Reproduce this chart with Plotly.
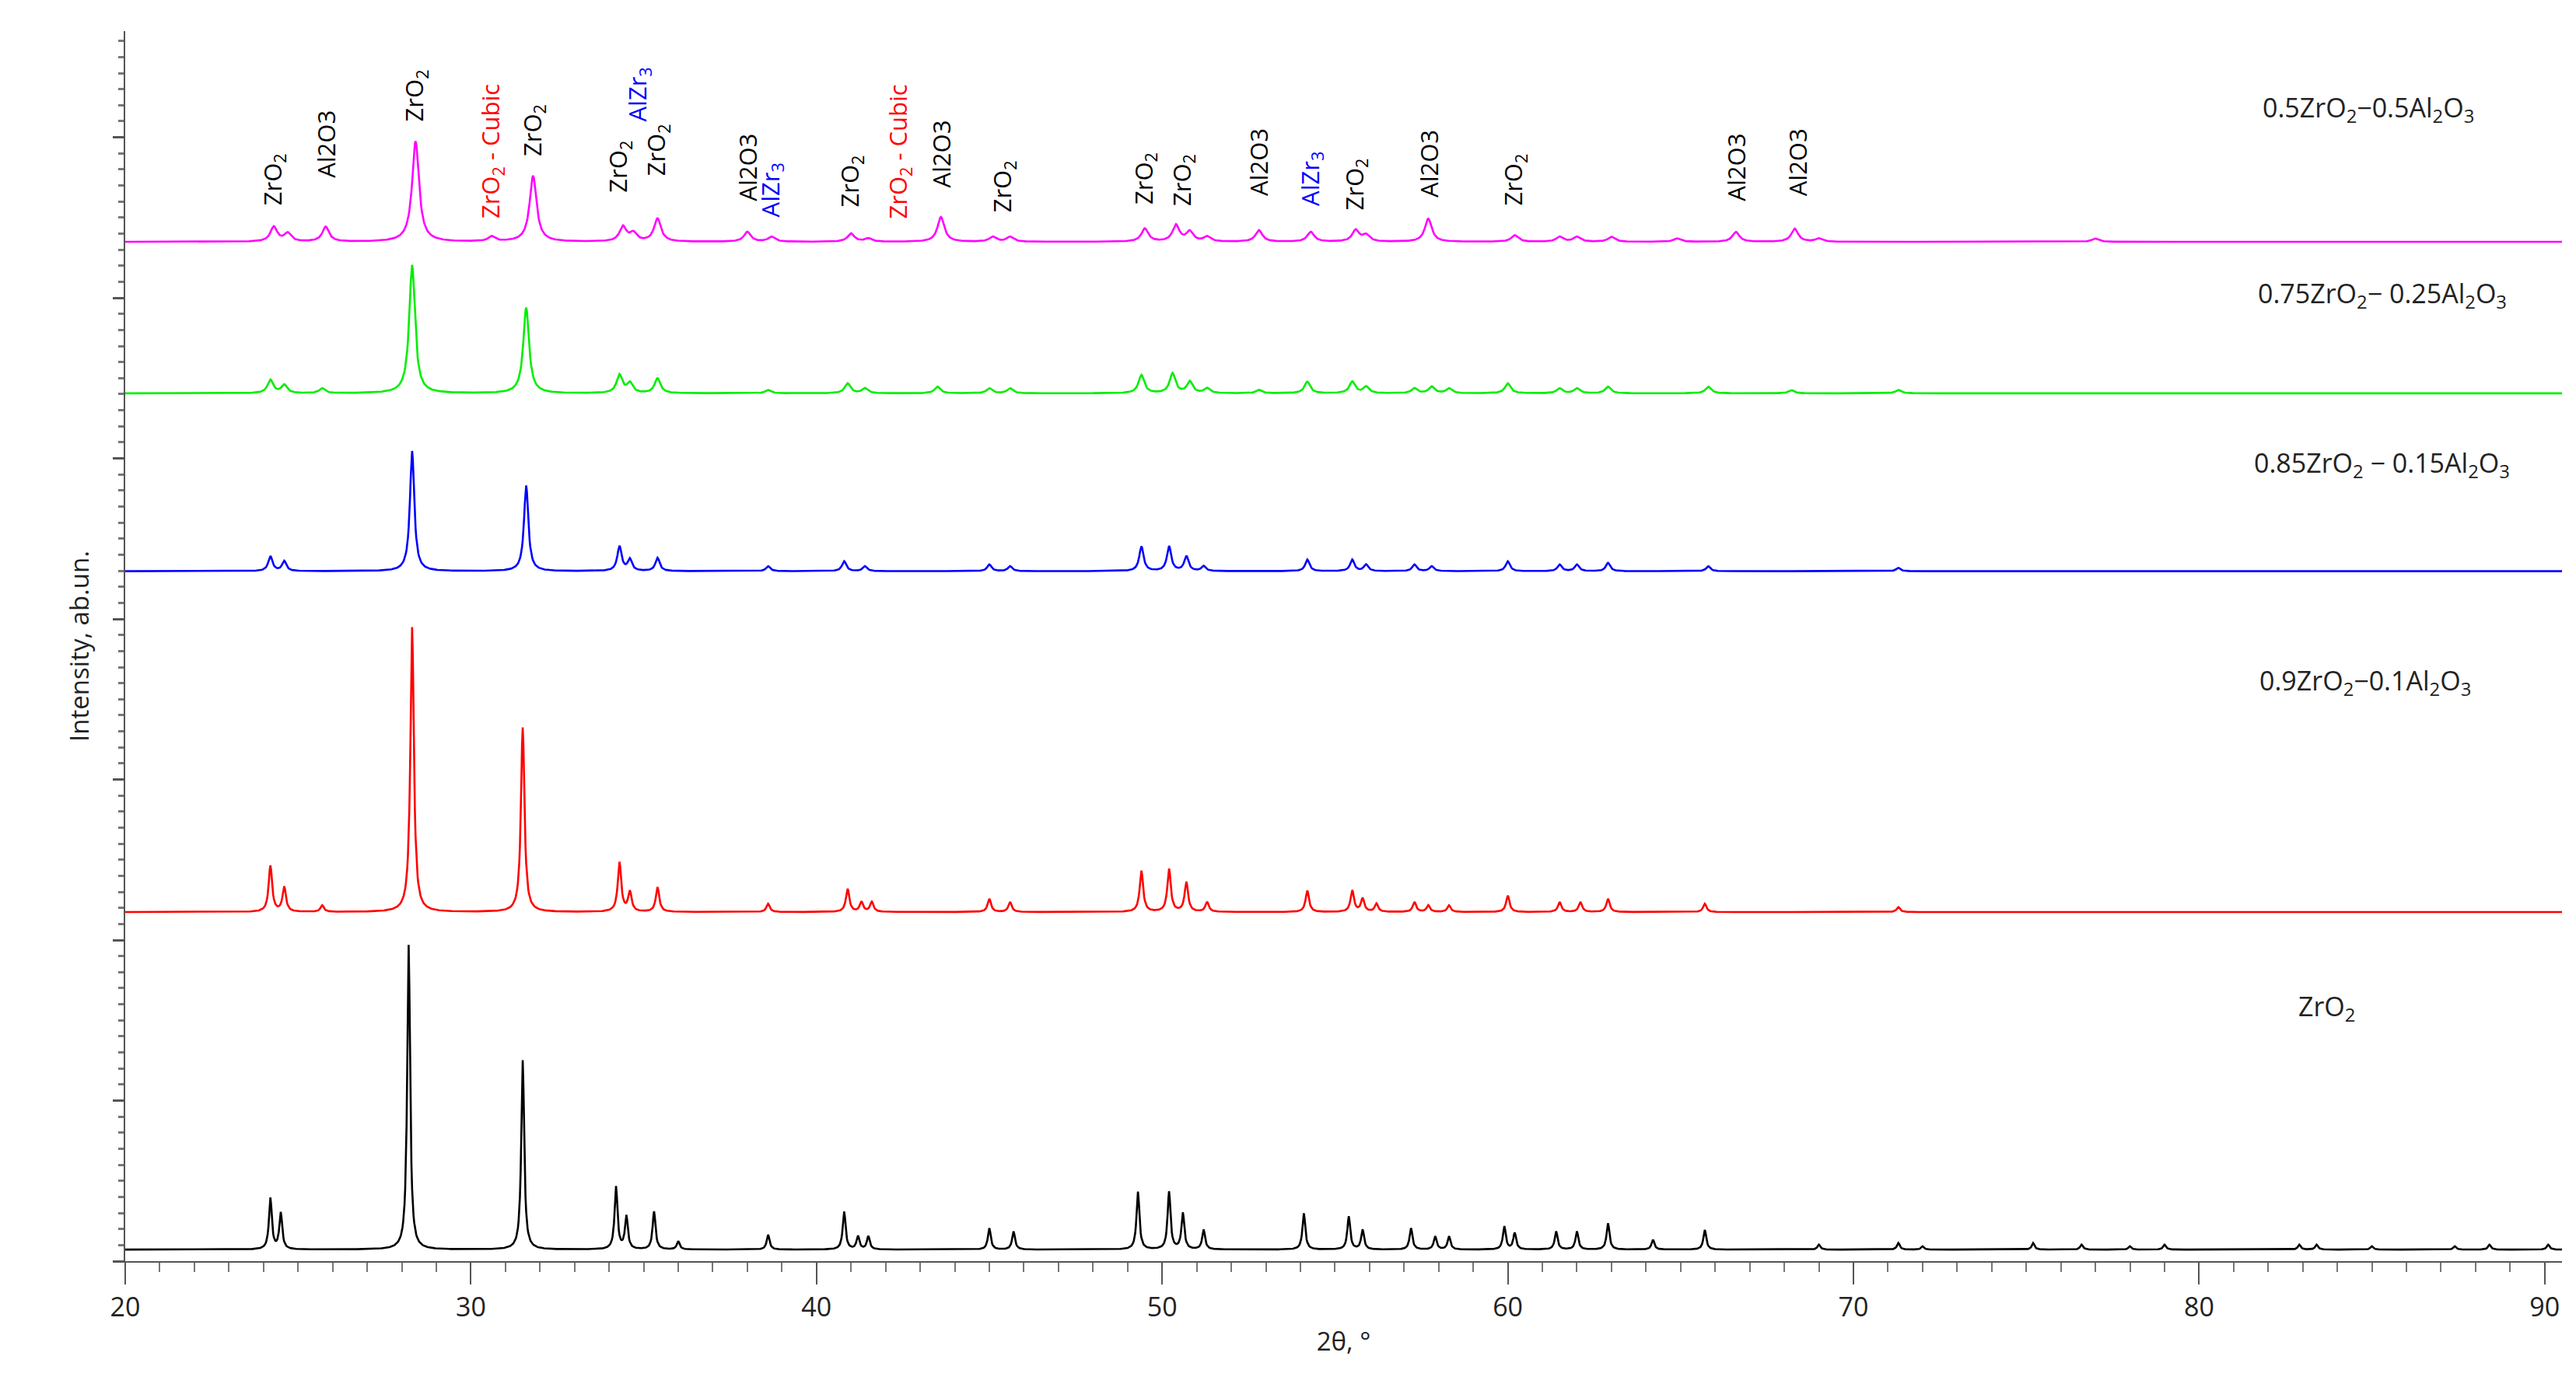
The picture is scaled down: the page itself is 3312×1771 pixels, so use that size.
import numpy as np
import plotly.graph_objects as go

# Peak lists (2theta, height above baseline)
zro2_pos = [24.2,24.5,28.2,31.5,34.2,34.5,35.3,36.0,38.6,40.8,41.2,41.5,45.0,45.7,49.3,50.2,50.6,51.2,54.1,55.4,55.8,57.2,57.9,58.3,59.9,60.2,61.4,62.0,62.9,64.2,65.7,69.0,71.3,72.0,75.2,76.6,78.0,79.0,82.9,83.4,85.0,87.4,88.4,90.1]
zro2_h   = [31,22,185,115,38,20,23,5,9,23,8,8,13,11,35,35,22,12,22,20,12,13,8,8,14,10,11,11,16,6,12,3,4,2,4,3,2,3,3,3,2,2,3,3]
r90_pos = [24.2,24.6,25.7,28.3,31.5,34.3,34.6,35.4,38.6,40.9,41.3,41.6,45.0,45.6,49.4,50.2,50.7,51.3,54.2,55.5,55.8,56.2,57.3,57.7,58.3,60.0,61.5,62.1,62.9,65.7,71.3]
r90_h   = [28,15,4,173,112,30,12,15,5,14,6,6,8,6,25,26,18,6,13,13,8,5,6,4,4,10,6,6,8,5,3]
r85_pos = [24.2,24.6,28.3,31.6,34.3,34.6,35.4,38.6,40.8,41.4,45.0,45.6,49.4,50.2,50.7,51.2,54.2,55.5,55.9,57.3,57.8,60.0,61.5,62.0,62.9,65.8,71.3]
r85_h   = [9,6,73,52,15,7,8,3,6,3,4,3,15,15,9,3,7,7,4,4,3,6,4,4,5,3,2]
r75_pos = [24.2,24.6,25.7,28.3,31.6,34.3,34.6,35.4,38.6,40.9,41.4,43.5,45.0,45.6,49.4,50.3,50.8,51.3,52.8,54.2,55.5,55.9,57.3,57.8,58.3,60.0,61.5,62.0,62.9,65.8,68.2,71.3]
r75_h   = [8,5,3,78,52,11,6,9,2,6,3,4,3,3,11,12,7,3,2,7,7,4,3,4,3,6,3,3,4,4,2,2]
r50_pos = [24.3,24.7,25.8,28.4,30.6,31.8,34.4,34.7,35.4,38.0,38.7,41.0,41.5,43.6,45.1,45.6,49.5,50.4,50.8,51.3,52.8,54.3,55.6,55.9,57.7,60.2,61.5,62.0,63.0,64.9,66.6,68.3,69.0,77.0]
r50_h   = [9,5,9,61,3,40,9,5,14,6,3,5,2,15,3,3,8,10,6,3,7,6,7,4,14,4,3,3,3,2,6,8,2,2]

names = ["ZrO<sub>2</sub>", "0.9ZrO<sub>2</sub>−0.1Al<sub>2</sub>O<sub>3</sub>",
         "0.85ZrO<sub>2</sub> − 0.15Al<sub>2</sub>O<sub>3</sub>",
         "0.75ZrO<sub>2</sub>− 0.25Al<sub>2</sub>O<sub>3</sub>",
         "0.5ZrO<sub>2</sub>−0.5Al<sub>2</sub>O<sub>3</sub>"]
colors = ["#000000", "#ff0000", "#0000ff", "#00ee00", "#ff00ff"]
baselines = [7, 212, 419, 527, 619]
widths = [0.1, 0.12, 0.15, 0.2, 0.24]
label_x = [83.7, 84.8, 85.3, 85.3, 84.9]
label_y = [154, 352, 484, 587, 700]

peak_labels = [(24.3,640,"ZrO<sub>2</sub>","black"),(25.8,657,"Al2O3","black"),(28.4,691,"ZrO<sub>2</sub>","black"),
 (30.6,632,"ZrO<sub>2</sub> - Cubic","red"),(31.8,670,"ZrO<sub>2</sub>","black"),(34.3,648,"ZrO<sub>2</sub>","black"),
 (34.85,691,"AlZr<sub>3</sub>","blue"),(35.4,658,"ZrO<sub>2</sub>","black"),(38.0,643,"Al2O3","black"),
 (38.7,633,"AlZr<sub>3</sub>","blue"),(41.0,639,"ZrO<sub>2</sub>","black"),(42.4,632,"ZrO<sub>2</sub> - Cubic","red"),
 (43.6,651,"Al2O3","black"),(45.4,636,"ZrO<sub>2</sub>","black"),(49.5,641,"ZrO<sub>2</sub>","black"),
 (50.6,640,"ZrO<sub>2</sub>","black"),(52.8,646,"Al2O3","black"),(54.3,640,"AlZr<sub>3</sub>","blue"),
 (55.6,637,"ZrO<sub>2</sub>","black"),(57.7,645,"Al2O3","black"),(60.2,640,"ZrO<sub>2</sub>","black"),
 (66.6,643,"Al2O3","black"),(68.4,646,"Al2O3","black")]

x = np.arange(20.0, 90.55, 0.02)
series = [(zro2_pos, zro2_h), (r90_pos, r90_h), (r85_pos, r85_h), (r75_pos, r75_h), (r50_pos, r50_h)]

fig = go.Figure()
for (pos, h), c, b, w in zip(series, colors, baselines, widths):
    y = np.full_like(x, float(b))
    for p, a in zip(pos, h):
        y += a / (1 + ((x - p) / (w / 2)) ** 2)
    fig.add_trace(go.Scatter(x=x, y=y, mode="lines", line=dict(color=c, width=2.6), showlegend=False))

font = "Open Sans, Calibri, sans-serif"
for xx, yy, t in zip(label_x, label_y, names):
    fig.add_annotation(x=xx, y=yy, text=t, showarrow=False, font=dict(size=34, color="#222", family=font))
for xx, yy, t, c in peak_labels:
    fig.add_annotation(x=xx, y=yy, text=t, textangle=-90, showarrow=False, yanchor="bottom",
                       font=dict(size=31, color=c, family=font))

fig.update_layout(
    width=3312, height=1771, plot_bgcolor="white", paper_bgcolor="white",
    margin=dict(l=153, r=26, t=32, b=157), font=dict(family=font, size=33, color="#222"),
    xaxis=dict(range=[20, 90.5], dtick=10, tick0=20, showline=True, linecolor="#555", linewidth=2,
               ticks="outside", ticklen=28, tickwidth=2, tickcolor="#555", showgrid=False, zeroline=False,
               tickfont=dict(size=34),
               minor=dict(dtick=1, ticks="outside", ticklen=12, tickcolor="#777", showgrid=False),
               title=dict(text="2θ, °", font=dict(size=33), standoff=12)),
    yaxis=dict(range=[0, 747], dtick=97.5, tick0=0, showticklabels=False, showline=True, linecolor="#555",
               linewidth=2, ticks="outside", ticklen=14, tickwidth=3, tickcolor="#555", showgrid=False,
               zeroline=False, minor=dict(dtick=9.75, ticks="outside", ticklen=7, tickcolor="#777", showgrid=False),
               title=dict(text="Intensity, ab.un.", font=dict(size=33), standoff=20)),
)
fig.write_html("out.html")
